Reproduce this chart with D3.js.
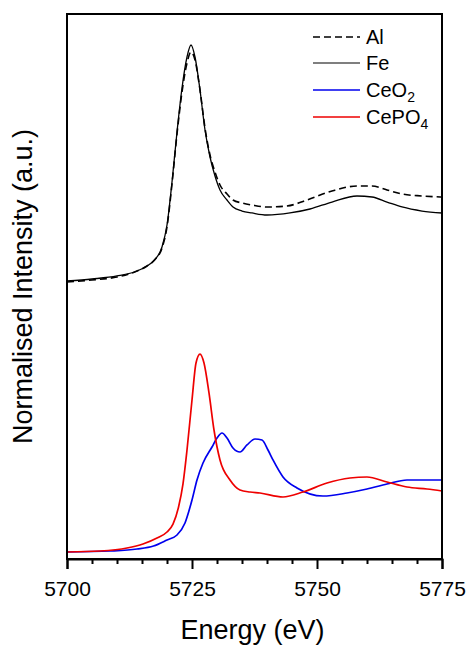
<!DOCTYPE html>
<html>
<head>
<meta charset="utf-8">
<script src="https://cdn.jsdelivr.net/npm/d3@7"></script>
<style>
  html, body { margin: 0; padding: 0; background: #fff; }
  svg { display: block; font-family: Arial, "Liberation Sans", Helvetica, sans-serif; }
</style>
</head>
<body>
<svg id="chart" width="468" height="645"></svg>
<script>
// ---- Data (energy in eV, normalised intensity in a.u., upper pair offset) ----
const alEnergy = [5700,5705,5710,5714,5716,5717.5,5719,5720,5721,5722,5723,5724,5724.8,5725.6,5726.6,5727.6,5728.6,5729.6,5730.6,5732,5733.2,5735,5737,5740,5744,5748,5753,5758,5761,5764,5767,5771,5775];
const alValues = [5.083,5.119,5.174,5.284,5.376,5.486,5.706,6.092,6.881,7.798,8.569,9.101,9.303,9.156,8.606,7.908,7.413,7.101,6.862,6.697,6.587,6.532,6.495,6.459,6.477,6.587,6.752,6.844,6.844,6.771,6.697,6.661,6.642];

const feEnergy = [5700,5705,5710,5714,5716,5717.5,5719,5720,5721,5722,5723,5724,5724.8,5725.6,5726.6,5727.6,5728.6,5729.6,5730.6,5732,5733.2,5735,5737,5740,5744.6,5748.6,5753,5758,5761,5764,5767,5771,5775];
const feValues = [5.101,5.138,5.193,5.284,5.376,5.486,5.725,6.128,6.917,7.835,8.642,9.211,9.431,9.211,8.606,7.872,7.376,7.028,6.771,6.587,6.459,6.385,6.349,6.312,6.349,6.422,6.550,6.661,6.642,6.550,6.459,6.385,6.349];

const ceo2Energy = [5700,5708.6,5714,5717.3,5720,5722,5723.6,5725,5726,5727.2,5729,5730,5731,5732,5733.2,5734.6,5736,5737.6,5739,5740.2,5741.2,5743.2,5746,5751.2,5756,5760,5764,5768,5775];
const ceo2Values = [0.128,0.147,0.183,0.239,0.349,0.440,0.661,1.083,1.450,1.761,2.055,2.220,2.312,2.220,2.037,1.963,2.092,2.202,2.183,2.000,1.817,1.505,1.303,1.156,1.211,1.284,1.376,1.450,1.450];

const cepo4Energy = [5700,5706.6,5712,5715.2,5718,5720,5721.2,5722.3,5723.2,5724,5725,5725.8,5726.6,5727.4,5728.4,5729.4,5730.6,5732.6,5734.6,5736.6,5738.6,5743.2,5747.2,5752,5756.6,5760,5764,5768,5772,5775];
const cepo4Values = [0.128,0.147,0.202,0.275,0.385,0.495,0.640,0.950,1.380,2.000,2.917,3.596,3.761,3.596,3.046,2.367,1.817,1.450,1.266,1.229,1.211,1.138,1.229,1.394,1.486,1.505,1.413,1.321,1.284,1.248];

const xTickValues = [5700, 5725, 5750, 5775];
const xMinorTicks = [5705,5710,5715,5720,5730,5735,5740,5745,5755,5760,5765,5770];
const seriesNames = ["Al", "Fe", "CeO2", "CePO4"];
const seriesColors = ["#000000", "#000000", "#0000ee", "#ee0000"];
const seriesDash = ["7,4", null, null, null];
const seriesWidth = [1.6, 1.3, 1.7, 1.7];

// ---- Layout ----
const svg = d3.select("#chart");
const mLeft = 67, mRight = 442, mTop = 14, mBottom = 559;

const x = d3.scaleLinear().domain([5700, 5775]).range([mLeft, mRight]);
const y = d3.scaleLinear().domain([0, 10]).range([mBottom, mTop]);

const series = [
  {E: alEnergy, V: alValues},
  {E: feEnergy, V: feValues},
  {E: ceo2Energy, V: ceo2Values},
  {E: cepo4Energy, V: cepo4Values}
];

const line = d3.line()
  .x(d => x(d[0]))
  .y(d => y(d[1]))
  .curve(d3.curveMonotoneX);

const plot = svg.append("g");
// draw order: blue, red, then Fe, Al
[2, 3, 1, 0].forEach(i => {
  const s = series[i];
  const pts = s.E.map((e, j) => [e, s.V[j]]);
  plot.append("path")
    .attr("d", line(pts))
    .attr("fill", "none")
    .attr("stroke", seriesColors[i])
    .attr("stroke-width", seriesWidth[i])
    .attr("stroke-dasharray", seriesDash[i])
    .attr("stroke-linejoin", "round");
});

// frame
svg.append("rect")
  .attr("x", mLeft).attr("y", mTop)
  .attr("width", mRight - mLeft).attr("height", mBottom - mTop)
  .attr("fill", "none").attr("stroke", "#000").attr("stroke-width", 2);

// bottom axis
const xAxis = d3.axisBottom(x).tickValues(xTickValues).tickSize(10).tickPadding(12).tickFormat(d3.format("d"));
const gx = svg.append("g").attr("transform", `translate(0,${mBottom})`).call(xAxis);
gx.select(".domain").attr("stroke-width", 2);
gx.selectAll(".tick line").attr("stroke-width", 2);
gx.selectAll(".tick text").attr("font-size", 21).attr("fill", "#000")
  .attr("font-family", "Arial, 'Liberation Sans', sans-serif");

const gm = svg.append("g").attr("transform", `translate(0,${mBottom})`)
  .call(d3.axisBottom(x).tickValues(xMinorTicks).tickSize(5).tickFormat(""));
gm.select(".domain").remove();
gm.selectAll(".tick line").attr("stroke-width", 2);

// axis titles
svg.append("text")
  .attr("x", (mLeft + mRight) / 2 - 2)
  .attr("y", 639)
  .attr("text-anchor", "middle")
  .attr("font-size", 27)
  .attr("fill", "#000")
  .text("Energy (eV)");

svg.append("text")
  .attr("transform", `translate(32,${(mTop + mBottom) / 2}) rotate(-90)`)
  .attr("text-anchor", "middle")
  .attr("font-size", 27)
  .attr("fill", "#000")
  .text("Normalised Intensity (a.u.)");

// legend
const legendY = [37, 63, 90, 117];
const lg = svg.append("g");
seriesNames.forEach((name, i) => {
  lg.append("line")
    .attr("x1", 313).attr("x2", 360)
    .attr("y1", legendY[i]).attr("y2", legendY[i])
    .attr("stroke", seriesColors[i])
    .attr("stroke-width", i === 1 ? 1.2 : 1.6)
    .attr("stroke-dasharray", seriesDash[i]);
  const t = lg.append("text")
    .attr("x", 366).attr("y", legendY[i] + 7)
    .attr("font-size", 20).attr("fill", "#000");
  const m = name.match(/^(.*?)(\d+)$/);
  if (m) {
    t.append("tspan").text(m[1]);
    t.append("tspan").attr("font-size", 14).attr("dy", 5).text(m[2]);
  } else {
    t.text(name);
  }
});
</script>
</body>
</html>
